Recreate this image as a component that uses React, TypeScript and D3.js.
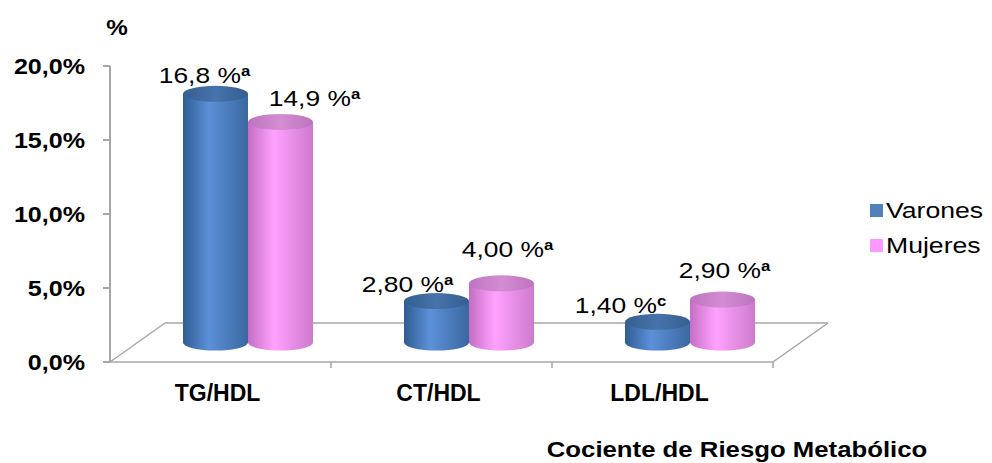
import React from "react";
import * as d3 from "d3";

const categories = ["TG/HDL", "CT/HDL", "LDL/HDL"];
const seriesNames = ["Varones", "Mujeres"];
const varones = [16.8, 2.8, 1.4];
const mujeres = [14.9, 4.0, 2.9];
const varonesLabels = ["16,8 %", "2,80 %", "1,40 %"];
const mujeresLabels = ["14,9 %", "4,00 %", "2,90 %"];
const varonesSup = ["a", "a", "c"];
const mujeresSup = ["a", "a", "a"];
const yTicks = [0, 5, 10, 15, 20];
const yTickLabels = ["0,0%", "5,0%", "10,0%", "15,0%", "20,0%"];
// manual label nudges (dx, dy) relative to cylinder top centre
const varonesLabelNudge = [[-11, -11], [-29, -9], [-37, -9]];
const mujeresLabelNudge = [[34, -16], [6, -26], [2, -22]];

const FONT = "Arial, 'Liberation Sans', sans-serif";

const W = 992, H = 463;
const left = 110, right = 773, floorY = 362, topY = 66;
const depthX = 55, depthY = 39;
const barW = 65, ry = 8;

const colors = {
  Varones: { l: "#2F5C92", m: "#5C90D8", r: "#3A68A0", top1: "#365F91", top2: "#4673AA", legend: "#4F81BD" },
  Mujeres: { l: "#C56EC5", m: "#FFA2FF", r: "#CD7ACD", top1: "#BF73BF", top2: "#D38DD3", legend: "#FF99FF" },
};

function STxt({ x, y, sx = 1, anchor = "start", size, weight = "normal", children, fill = "#000" }: any) {
  return (
    <g transform={`translate(${x},${y}) scale(${sx},1)`}>
      <text x={0} y={0} textAnchor={anchor} fontSize={size} fontWeight={weight} fontFamily={FONT} fill={fill}>
        {children}
      </text>
    </g>
  );
}

export default function App() {
  const y = d3.scaleLinear().domain([0, 20]).range([floorY, topY]);
  const x0 = d3.scaleBand<string>().domain(categories).range([left, right]).paddingInner(0).paddingOuter(0);
  const x1 = d3.scaleBand<string>().domain(seriesNames).range([0, barW * 2]);
  const pairOffset = (x0.bandwidth() - barW * 2) / 2 + depthX / 2;
  const baseY = floorY - depthY / 2;

  const data = seriesNames.map((s, si) => ({
    name: s,
    values: si === 0 ? varones : mujeres,
    labels: si === 0 ? varonesLabels : mujeresLabels,
    sups: si === 0 ? varonesSup : mujeresSup,
    nudge: si === 0 ? varonesLabelNudge : mujeresLabelNudge,
  }));

  const cyl = (cx: number, top: number, base: number) => {
    const rx = barW / 2;
    return `M${cx - rx},${top} L${cx - rx},${base} A${rx},${ry} 0 0 0 ${cx + rx},${base} L${cx + rx},${top} Z`;
  };

  const grey = "#A6A6A6";

  return (
    <svg width={W} height={H} style={{ position: "absolute", left: 0, top: 0, background: "#fff" }}>
      <defs>
        {seriesNames.map((s) => {
          const c = (colors as any)[s];
          return (
            <React.Fragment key={s}>
              <linearGradient id={`body-${s}`} x1="0" x2="1" y1="0" y2="0">
                <stop offset="0%" stopColor={c.l} />
                <stop offset="40%" stopColor={c.m} />
                <stop offset="100%" stopColor={c.r} />
              </linearGradient>
              <linearGradient id={`top-${s}`} x1="0" x2="1" y1="0" y2="0">
                <stop offset="0%" stopColor={c.top1} />
                <stop offset="50%" stopColor={c.top2} />
                <stop offset="100%" stopColor={c.top1} />
              </linearGradient>
            </React.Fragment>
          );
        })}
      </defs>

      {/* floor */}
      <g stroke={grey} strokeWidth={1.5} fill="none">
        <line x1={left} y1={floorY} x2={left + depthX} y2={floorY - depthY} />
        <line x1={left + depthX} y1={floorY - depthY} x2={right + depthX} y2={floorY - depthY} />
        <line x1={right} y1={floorY} x2={right + depthX} y2={floorY - depthY} />
        <line x1={left} y1={floorY} x2={right} y2={floorY} />
        {categories.map((c) => (
          <line key={c} x1={(x0(c) as number) + x0.bandwidth()} y1={floorY} x2={(x0(c) as number) + x0.bandwidth()} y2={floorY + 6} />
        ))}
      </g>

      {/* y axis */}
      <g stroke={grey} strokeWidth={2}>
        <line x1={left} y1={y(20)} x2={left} y2={floorY} />
        {yTicks.map((t) => (
          <line key={t} x1={left - 7} y1={y(t)} x2={left} y2={y(t)} />
        ))}
      </g>
      {yTicks.map((t, i) => (
        <STxt key={t} x={85} y={y(t) + 8} sx={1.14} anchor="end" size={22} weight="bold">
          {yTickLabels[i]}
        </STxt>
      ))}
      <STxt x={117} y={35} sx={1.1} anchor="middle" size={22} weight="bold">%</STxt>

      {/* cylinders */}
      {categories.map((c, ci) =>
        data.map((s) => {
          const cx = (x0(c) as number) + pairOffset + (x1(s.name) as number) + barW / 2;
          const top = baseY - (floorY - y(s.values[ci]));
          return (
            <g key={c + s.name}>
              <path d={cyl(cx, top, baseY)} fill={`url(#body-${s.name})`} />
              <ellipse cx={cx} cy={top} rx={barW / 2} ry={ry} fill={`url(#top-${s.name})`} />
            </g>
          );
        })
      )}

      {/* value labels */}
      {categories.map((c, ci) =>
        data.map((s) => {
          const cx = (x0(c) as number) + pairOffset + (x1(s.name) as number) + barW / 2;
          const top = baseY - (floorY - y(s.values[ci]));
          const [dx, dy] = s.nudge[ci];
          return (
            <g key={"l" + c + s.name} transform={`translate(${cx + dx},${top + dy}) scale(1.2,1)`}>
              <text x={0} y={0} textAnchor="middle" fontFamily={FONT} fontSize={22}>
                {s.labels[ci]}
                <tspan fontSize={14} fontWeight="bold" dy={-7}>{s.sups[ci]}</tspan>
              </text>
            </g>
          );
        })
      )}

      {/* category labels */}
      {categories.map((c) => (
        <STxt key={c} x={(x0(c) as number) + x0.bandwidth() / 2 - 3} y={401} sx={1.0} anchor="middle" size={23} weight="bold">
          {c}
        </STxt>
      ))}

      <STxt x={737} y={457} sx={1.12} anchor="middle" size={23} weight="bold">Cociente de Riesgo Metabólico</STxt>

      {/* legend */}
      {seriesNames.map((s, i) => (
        <g key={s}>
          <rect x={870} y={204 + i * 35} width={13} height={13} fill={(colors as any)[s].legend} />
          <STxt x={886} y={218 + i * 35} sx={1.21} size={22}>{s}</STxt>
        </g>
      ))}
    </svg>
  );
}
